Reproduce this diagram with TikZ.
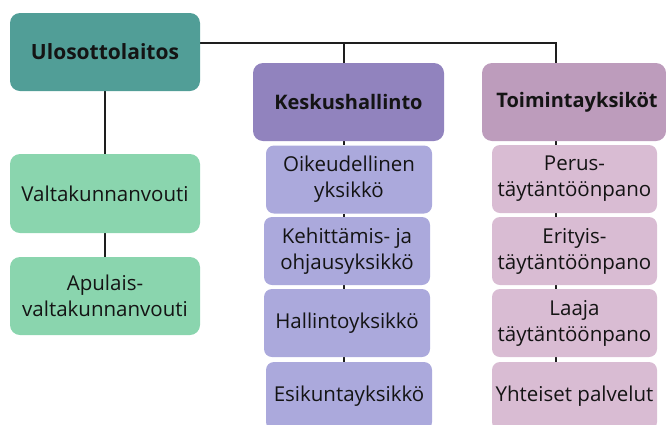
\documentclass[tikz,border=0pt]{standalone}
\usepackage{fontspec}
\setmainfont{Open Sans}
\usetikzlibrary{backgrounds}

\definecolor{cTeal}{HTML}{519E97}
\definecolor{cGreen}{HTML}{8AD5AE}
\definecolor{cKesk}{HTML}{9183BE}
\definecolor{cKeskSub}{HTML}{ABA9DC}
\definecolor{cToim}{HTML}{BD9CBC}
\definecolor{cToimSub}{HTML}{D9BCD3}
\definecolor{cLine}{HTML}{1E1E1E}

\tikzset{
  box/.style={rounded corners=10pt, inner sep=0pt, align=center,
    font=\fontsize{20.5}{26}\selectfont, text=black!92},
  headbox/.style={box, font=\fontsize{20}{26}\selectfont\bfseries},
  subbox/.style={box, rounded corners=8pt, minimum width=166pt, minimum height=68pt},
  link/.style={draw=cLine, line width=1.4pt},
}

\begin{document}
\begin{tikzpicture}[x=1pt, y=-1pt]
  \useasboundingbox (0,0) rectangle (666,424);
  \clip (0,0) rectangle (666,424);

  % top level
  \node[headbox, font=\fontsize{21}{26}\selectfont\bfseries, fill=cTeal, minimum width=190pt, minimum height=78pt] (ulo) at (105,52) {Ulosottolaitos};
  \node[box, fill=cGreen, minimum width=190pt, minimum height=79pt] (valt) at (105,193.5) {Valtakunnanvouti};
  \node[box, fill=cGreen, minimum width=190pt, minimum height=78pt] (apu) at (105,296) {Apulais-\\valtakunnanvouti};

  % central administration
  \node[headbox, fill=cKesk, minimum width=191pt, minimum height=78pt] (kesk) at (348.5,102) {Keskushallinto};
  \node[subbox, fill=cKeskSub] (oik) at (349,179.5) {Oikeudellinen\\yksikkö};
  \node[subbox, fill=cKeskSub] (keh) at (347,251) {Kehittämis- ja\\ohjausyksikkö};
  \node[subbox, fill=cKeskSub] (hal) at (347,323) {Hallintoyksikkö};
  \node[subbox, fill=cKeskSub] (esi) at (349,396) {Esikuntayksikkö};

  % operational units
  \node[headbox, fill=cToim, minimum width=184pt, minimum height=78pt] (toim) at (574,102) {\hspace*{6pt}Toimintayksiköt};
  \node[subbox, fill=cToimSub, minimum width=165pt] (per) at (574.5,179) {Perus-\\täytäntöönpano};
  \node[subbox, fill=cToimSub, minimum width=165pt] (eri) at (574.5,251) {Erityis-\\täytäntöönpano};
  \node[subbox, fill=cToimSub, minimum width=165pt] (laa) at (574.5,323) {Laaja\\täytäntöönpano};
  \node[subbox, fill=cToimSub, minimum width=165pt] (yht) at (574.5,396) {Yhteiset palvelut};

  % connector guides
  \coordinate (bus) at (0,43);
  \coordinate (kspine) at (344,0);
  \coordinate (tspine) at (556,0);

  \begin{scope}[on background layer]
    \draw[link] (ulo.east |- bus) -| (tspine |- toim.north);
    \draw[link] (kspine |- bus) -- (kspine |- kesk.north);
    \draw[link] (ulo.south) -- (valt.north);
    \draw[link] (valt.south) -- (apu.north);
    \draw[link] (kspine |- kesk.south) -- (kspine |- oik.north);
    \draw[link] (kspine |- oik.south) -- (kspine |- keh.north);
    \draw[link] (kspine |- keh.south) -- (kspine |- hal.north);
    \draw[link] (kspine |- hal.south) -- (kspine |- esi.north);
    \draw[link] (tspine |- toim.south) -- (tspine |- per.north);
    \draw[link] (tspine |- per.south) -- (tspine |- eri.north);
    \draw[link] (tspine |- eri.south) -- (tspine |- laa.north);
    \draw[link] (tspine |- laa.south) -- (tspine |- yht.north);
  \end{scope}
\end{tikzpicture}
\end{document}
